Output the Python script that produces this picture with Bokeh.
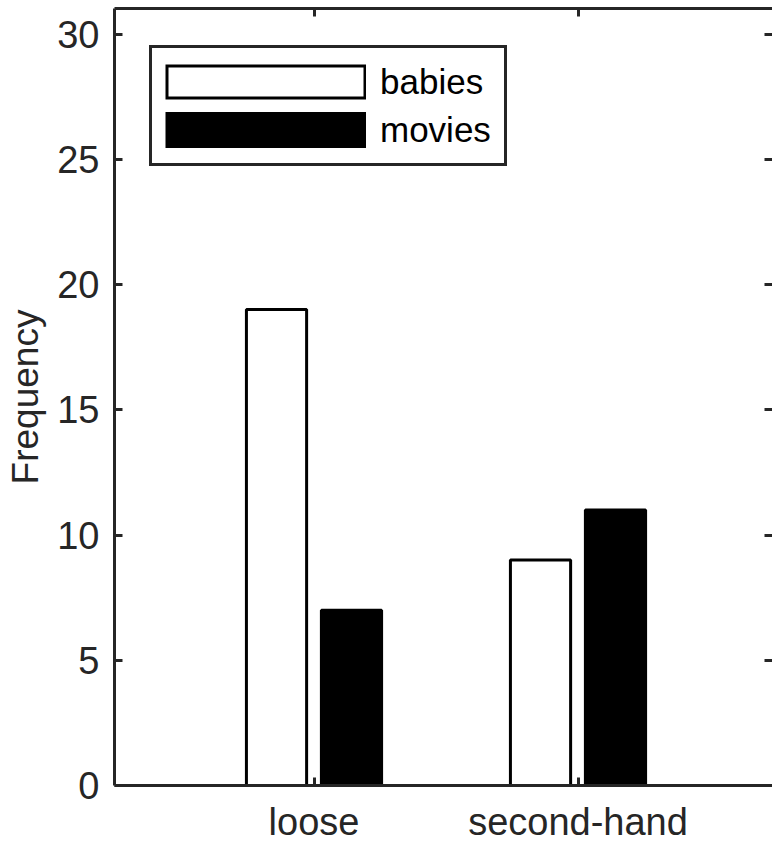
from bokeh.plotting import figure
from bokeh.models import Range1d, FixedTicker, LinearAxis, Legend, LegendItem
from bokeh.embed import file_html
from bokeh.resources import INLINE

categories = ["loose", "second-hand"]
babies = [19, 9]
movies = [7, 11]
y_ticks = [0, 5, 10, 15, 20, 25, 30]

xpos = [i + 1 for i in range(len(categories))]
off = 0.142
bw = 0.228

DARK = "#262626"
FONT = "Liberation Sans"
NAN = float("nan")

p = figure(width=772, height=846, output_backend="svg", toolbar_location=None,
           x_range=Range1d(0.2443, 2.7367), y_range=Range1d(0, 31.02),
           min_border_left=114, min_border_top=8, min_border_right=0, min_border_bottom=61)
p.background_fill_color = "white"
p.border_fill_color = "white"
p.grid.visible = False
p.outline_line_color = None

p.vbar(x=[x - off for x in xpos], top=babies, width=bw, bottom=0,
       fill_color="white", line_color="black", line_width=3)
p.vbar(x=[x + off for x in xpos], top=movies, width=bw, bottom=0,
       fill_color="black", line_color="black", line_width=3)

# legend swatches (legend only, nothing drawn in the plot)
sw_b_outer = p.line(x=[NAN], y=[NAN], line_color="black", line_width=35, line_cap="butt")
sw_b_inner = p.line(x=[NAN], y=[NAN], line_color="white", line_width=29, line_cap="butt",
                    line_dash="0 3 195 60")
sw_m = p.line(x=[NAN], y=[NAN], line_color="black", line_width=36, line_cap="butt")


def style(ax, labels=True, size="38px"):
    ax.axis_line_color = DARK
    ax.axis_line_width = 3
    ax.major_tick_line_color = DARK
    ax.major_tick_line_width = 3
    ax.major_tick_in = 8
    ax.major_tick_out = 0
    ax.minor_tick_line_color = None
    ax.major_label_text_font = FONT
    ax.major_label_text_color = DARK
    if labels:
        ax.major_label_text_font_size = size
    else:
        ax.major_label_text_font_size = "1px"
        ax.major_label_text_color = None
        ax.major_label_standoff = 0
        ax.axis_label_standoff = 0


p.xaxis.ticker = FixedTicker(ticks=xpos)
p.xaxis.major_label_overrides = {x: c for x, c in zip(xpos, categories)}
p.yaxis.ticker = FixedTicker(ticks=y_ticks)
style(p.xaxis[0], size="38px")
style(p.yaxis[0], size="38px")
p.xaxis.major_label_standoff = 15
p.yaxis.major_label_standoff = 15
p.yaxis.axis_label = "Frequency"
p.yaxis.axis_label_text_font = FONT
p.yaxis.axis_label_text_font_size = "37px"
p.yaxis.axis_label_text_font_style = "normal"
p.yaxis.axis_label_text_color = DARK
p.yaxis.axis_label_standoff = 8

top_ax = LinearAxis(ticker=FixedTicker(ticks=xpos))
style(top_ax, labels=False)
p.add_layout(top_ax, "above")
right_ax = LinearAxis(ticker=FixedTicker(ticks=y_ticks))
style(right_ax, labels=False)
right_ax.axis_line_color = None
p.add_layout(right_ax, "right")

legend = Legend(items=[LegendItem(label="babies", renderers=[sw_b_outer, sw_b_inner]),
                       LegendItem(label="movies", renderers=[sw_m])],
                location=(35, 619))
legend.margin = 0
legend.padding = 13
legend.spacing = 7
legend.glyph_width = 201
legend.glyph_height = 41
legend.label_standoff = 14
legend.label_text_font = FONT
legend.label_text_font_size = "35px"
legend.label_text_color = "black"
legend.border_line_color = DARK
legend.border_line_width = 3
legend.border_line_alpha = 1
legend.background_fill_color = "white"
legend.background_fill_alpha = 1
p.add_layout(legend, "center")

open("out.html", "w").write(file_html(p, INLINE))
